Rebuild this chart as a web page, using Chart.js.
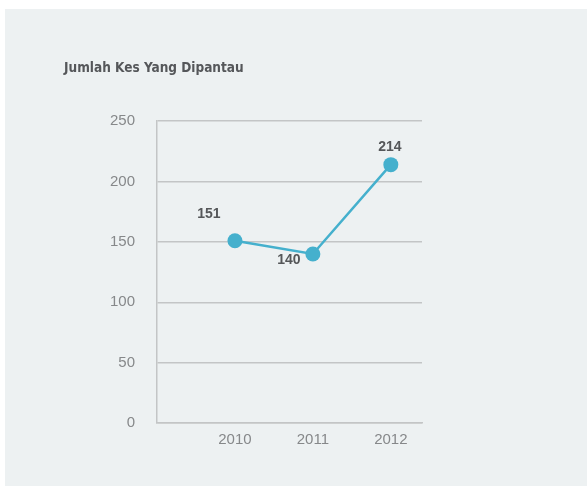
<!DOCTYPE html>
<html lang="ms">
<head>
    <meta charset="UTF-8">
    <title>Jumlah Kes Yang Dipantau</title>
    <script src="https://cdn.jsdelivr.net/npm/chart.js"></script>
    <style>
        body { margin: 0; background: #ffffff; }
        #panel {
            position: absolute;
            left: 5px;
            top: 9px;
            width: 582px;
            height: 477px;
            background: #edf1f2;
        }
    </style>
</head>
<body>
    <div id="panel">
        <canvas id="kesChart" width="582" height="477"></canvas>
    </div>

    <script>
        // Cases monitored per year
        const years = [2010, 2011, 2012];
        const cases = [151, 140, 214];
        const yTicks = [0, 50, 100, 150, 200, 250];

        // where each value label sits relative to its point
        const labelOffsets = [[-26, -27], [-24, 6], [-1, -18]];

        const valueLabels = {
            id: 'valueLabels',
            afterDatasetsDraw(chart) {
                const ctx = chart.ctx;
                const meta = chart.getDatasetMeta(0);
                ctx.save();
                ctx.font = 'bold 14px "Liberation Sans", Arial, sans-serif';
                ctx.fillStyle = '#555759';
                ctx.textAlign = 'center';
                ctx.textBaseline = 'middle';
                meta.data.forEach((pt, i) => {
                    const off = labelOffsets[i];
                    ctx.fillText(String(cases[i]), pt.x + off[0], pt.y + off[1]);
                });
                ctx.restore();
            }
        };

        const ctx = document.getElementById('kesChart').getContext('2d');
        new Chart(ctx, {
            type: 'line',
            data: {
                datasets: [{
                    data: years.map((y, i) => ({ x: y, y: cases[i] })),
                    borderColor: '#45b0cd',
                    backgroundColor: '#45b0cd',
                    borderWidth: 2.5,
                    pointRadius: 7.5,
                    pointHoverRadius: 7.5,
                    pointBorderWidth: 0,
                    tension: 0
                }]
            },
            options: {
                responsive: false,
                animation: false,
                layout: {
                    padding: { left: 59, right: 165, top: 0, bottom: 29 }
                },
                plugins: {
                    legend: { display: false },
                    tooltip: { enabled: false },
                    title: {
                        display: true,
                        text: 'Jumlah Kes Yang Dipantau',
                        align: 'start',
                        color: '#55575a',
                        font: { family: '"Liberation Sans Narrow", "DejaVu Sans Condensed", sans-serif', size: 13.5, weight: 'bold' },
                        padding: { top: 51, bottom: 45 }
                    }
                },
                scales: {
                    x: {
                        type: 'linear',
                        min: 2009,
                        max: 2012.4,
                        afterBuildTicks: scale => {
                            scale.ticks = years.map(v => ({ value: v }));
                        },
                        grid: { display: false, drawTicks: false },
                        border: { display: true, color: '#c3c5c6', width: 1.5 },
                        ticks: {
                            color: '#86888a',
                            padding: 8,
                            font: { family: '"Liberation Sans", Arial, sans-serif', size: 15 },
                            callback: v => String(v)
                        }
                    },
                    y: {
                        min: 0,
                        max: 250,
                        afterBuildTicks: scale => {
                            scale.ticks = yTicks.map(v => ({ value: v }));
                        },
                        afterFit: scale => { scale.width = 93; },
                        grid: { color: '#c3c5c6', lineWidth: 1.5, drawTicks: false },
                        border: { display: true, color: '#c3c5c6', width: 1.5 },
                        ticks: {
                            color: '#86888a',
                            padding: 22,
                            font: { family: '"Liberation Sans", Arial, sans-serif', size: 15 }
                        }
                    }
                }
            },
            plugins: [valueLabels]
        });
    </script>
</body>
</html>
